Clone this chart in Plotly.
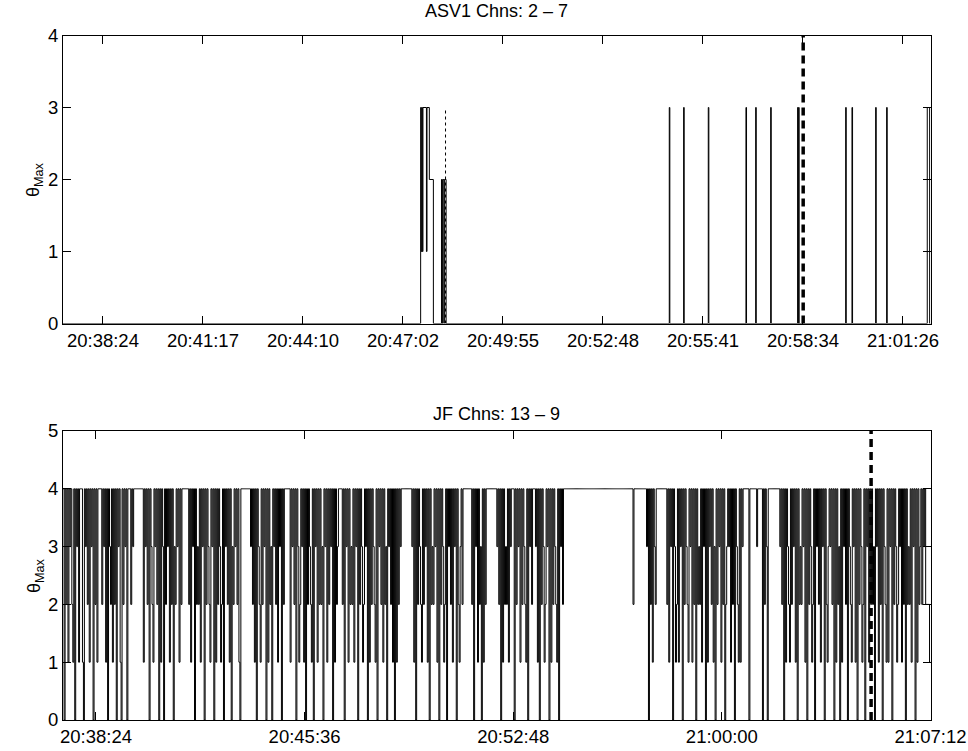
import plotly.graph_objects as go

# ---------------- data ----------------
# time axis: seconds after 20:38:24
top_tick_secs = [0, 172.8, 345.6, 518.4, 691.2, 864.0, 1036.8, 1209.6, 1382.4]
top_tick_labels = ["20:38:24", "20:41:17", "20:44:10", "20:47:02", "20:49:55",
                   "20:52:48", "20:55:41", "20:58:34", "21:01:26"]
bot_tick_secs = [0, 432, 864, 1296, 1728]
bot_tick_labels = ["20:38:24", "20:45:36", "20:52:48", "21:00:00", "21:07:12"]

# ASV1 Chns 2-7 : theta_max step signal (breakpoints)
asv1_t = [-69, 549, 550, 551, 552, 553, 559, 560, 564, 571,
          585, 586, 587, 589, 590, 593,
          978.6, 979.6, 1003.4, 1004.4, 1046.0, 1047.0, 1111.1, 1112.1,
          1127.9, 1128.9, 1153.8, 1154.8, 1200.4, 1201.2, 1202.2, 1203.0,
          1283.4, 1284.4, 1294.3, 1295.3, 1335.2, 1336.2, 1354.2, 1355.2,
          1424.4, 1428.5, 1430]
asv1_v = [0, 3, 1, 3, 1, 3, 1, 3, 2, 0,
          2, 0, 2, 0, 2, 0,
          3, 0, 3, 0, 3, 0, 3, 0,
          3, 0, 3, 0, 3, 0, 3, 0,
          3, 0, 3, 0, 3, 0, 3, 0,
          3, 0, 0]
asv1_dotted_t = 592
asv1_event_t = 1210

# JF Chns 13-9 : theta_max sampled every 2 s from -68 s (segments in time order)
jf_start = -68
jf_step = 2
jf_segments = [
    "404241434214043414441043424143404241",
    "444",
    "4243414043241424043410424340444243",
    "444444444",
    "41434240432143424041430424341424032434142",
    "444444",
    "4241434042324143404243214340414243124043424140324342410",
    "444444444",
    "434241404321424340414230434241434042",
    "44444",
    "414342404312434140424321404341424230434142434041423",
    "444",
    "42404341423241434042431243404142432140434241423043424140414243",
    "4444444444",
    "434140424321424341404232434140424312404342414340421342",
    "44444444",
    "42404341423041424",
    "444444444",
    "43424041423241434440424341424321404342444341404243124340414243214043424",
    "44444444444444444444444444444444444444444444444444444444444444444444444"
    "2" "444444444444",
    "43404241432",
    "4444444444",
    "42414340431241434042432143414240423241434041434241304243414240234341424043214143",
    "4444440444444434444",
    "40424304",
    "4444444444",
    "434240414321424341404232434140424312404342414340421343424041423041434240"
    "432143414042431240434142423043414240432141434042431243414240423241434041423",
    "42434222211",
]
jf_theta = [int(c) for c in "".join(jf_segments)]
jf_t = [jf_start + jf_step * i for i in range(len(jf_theta))]
jf_event_t = 1605

# ---------------- figure ----------------
W, H = 968, 751
FONT = "Liberation Sans, Arial, sans-serif"
fig = go.Figure()

fig.add_trace(go.Scatter(x=asv1_t, y=asv1_v, mode="lines", line=dict(color="black", width=1, shape="hv"),
                         xaxis="x", yaxis="y", showlegend=False))
fig.add_trace(go.Scatter(x=[asv1_dotted_t, asv1_dotted_t], y=[0, 3], mode="lines",
                         line=dict(color="black", width=1, dash="dot"), xaxis="x", yaxis="y", showlegend=False))
fig.add_trace(go.Scatter(x=[asv1_event_t, asv1_event_t], y=[0, 4], mode="lines",
                         line=dict(color="black", width=3.5, dash="8px,5px"), xaxis="x", yaxis="y", showlegend=False))

fig.add_trace(go.Scatter(x=jf_t, y=jf_theta, mode="lines", line=dict(color="black", width=1, shape="hv"),
                         xaxis="x2", yaxis="y2", showlegend=False))
fig.add_trace(go.Scatter(x=[jf_event_t, jf_event_t], y=[0, 5], mode="lines",
                         line=dict(color="black", width=3.5, dash="8px,5px"), xaxis="x2", yaxis="y2", showlegend=False))

ax = dict(showline=True, linecolor="black", linewidth=1, mirror="ticks", ticks="inside",
          ticklen=8, tickcolor="black", tickwidth=1, showgrid=False, zeroline=False,
          automargin=False, tickfont=dict(family=FONT, size=18.5, color="black"))

xd = [63 / W, 930.5 / W]
fig.update_layout(
    template="none",
    width=W, height=H, margin=dict(l=0, r=0, t=0, b=0, pad=0), autosize=False,
    paper_bgcolor="white", plot_bgcolor="white",
    xaxis=dict(ax, domain=xd, range=[-69, 1430], tickvals=top_tick_secs, ticktext=top_tick_labels,
               anchor="y"),
    yaxis=dict(ax, domain=[1 - 323.5 / H, 1 - 35.5 / H], range=[0, 4], tickvals=[0, 1, 2, 3, 4],
               anchor="x"),
    xaxis2=dict(ax, domain=xd, range=[-68.3, 1728], tickvals=bot_tick_secs, ticktext=bot_tick_labels,
                anchor="y2"),
    yaxis2=dict(ax, domain=[1 - 720 / H, 1 - 431 / H], range=[0, 5], tickvals=[0, 1, 2, 3, 4, 5],
                anchor="x2"),
    annotations=[
        dict(text="ASV1 Chns: 2 \u2013 7", x=(63 + 930.5) / 2 / W, y=1 - 11 / H, xref="paper", yref="paper",
             xanchor="center", yanchor="middle", showarrow=False,
             font=dict(family=FONT, size=18, color="black")),
        dict(text="JF Chns: 13 \u2013 9", x=(63 + 930.5) / 2 / W, y=1 - 414 / H, xref="paper", yref="paper",
             xanchor="center", yanchor="middle", showarrow=False,
             font=dict(family=FONT, size=18, color="black")),
        dict(text="\u03b8<sub>Max</sub>", x=35 / W, y=1 - 180 / H, xref="paper", yref="paper",
             xanchor="center", yanchor="middle", textangle=-90, showarrow=False,
             font=dict(family=FONT, size=18, color="black")),
        dict(text="\u03b8<sub>Max</sub>", x=35 / W, y=1 - 576 / H, xref="paper", yref="paper",
             xanchor="center", yanchor="middle", textangle=-90, showarrow=False,
             font=dict(family=FONT, size=18, color="black")),
    ],
)

fig.write_html("out.html")
